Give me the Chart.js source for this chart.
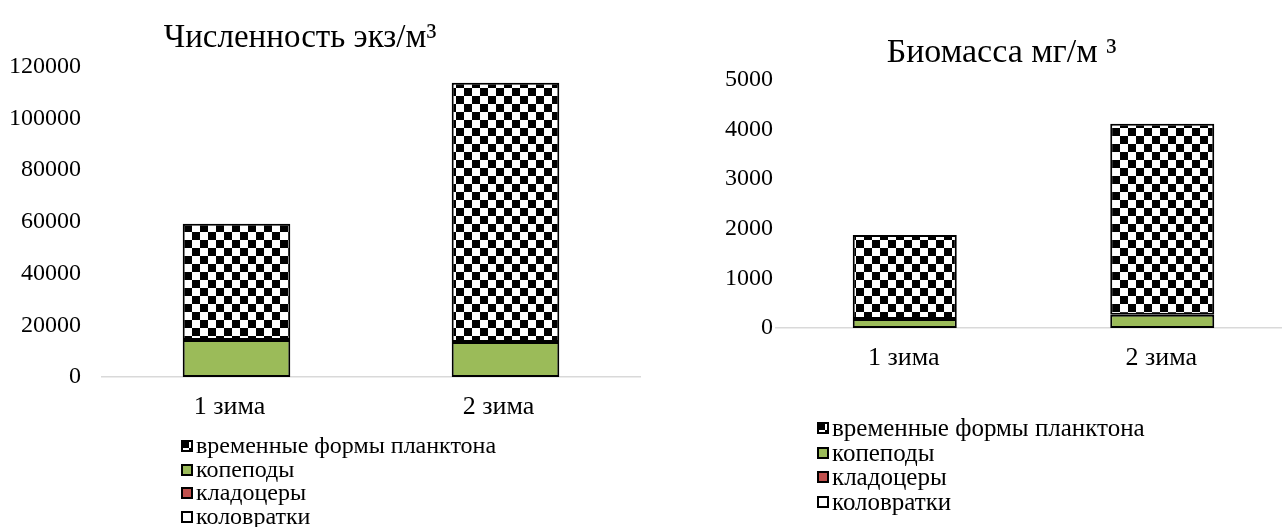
<!DOCTYPE html>
<html lang="ru">
<head>
<meta charset="utf-8">
<title>Зоопланктон</title>
<script src="https://cdn.jsdelivr.net/npm/chart.js@4.4.1/dist/chart.umd.min.js"></script>
<style>
  body { margin: 0; width: 1282px; height: 527px; overflow: hidden; background: #fff; position: relative;
         font-family: "Liberation Serif", "Times New Roman", serif; }
  canvas.chart { position: absolute; top: 0; }
  .legend { position: absolute; color: #000; }
  .legend div { display: flex; align-items: center; white-space: nowrap; }
  .legend canvas { margin-right: 3px; }
</style>
</head>
<body>
<canvas id="chislennost" class="chart" width="685" height="423" style="left:-40px"></canvas>
<canvas id="biomassa" class="chart" width="580" height="374" style="left:712px"></canvas>
<div id="legend1" class="legend" style="left:181px; top:434px; line-height:23.7px; font-size:24px"></div>
<div id="legend2" class="legend" style="left:817px; top:416px; line-height:24.6px; font-size:25px"></div>
<script>
var categories = ["1 зима", "2 зима"];
var seriesNames = ["коловратки", "кладоцеры", "копеподы", "временные формы планктона"];

// Численность, экз/м3
var numRotifers = [0, 0];
var numCladocera = [0, 0];
var numCopepods = [14300, 13550];
var numTemporary = [44900, 100250];
var numMax = 120000, numStep = 20000;

// Биомасса, мг/м3
var bioRotifers = [0, 0];
var bioCladocera = [0, 0];
var bioCopepods = [180, 265];
var bioTemporary = [1695, 3850];
var bioMax = 5000, bioStep = 1000;

var FONT = "'Liberation Serif', 'Times New Roman', serif";

// шахматная заливка для временных форм
function checker(size) {
    var c = document.createElement("canvas");
    c.width = c.height = size * 2;
    var g = c.getContext("2d");
    g.fillStyle = "#fff";
    g.fillRect(0, 0, size * 2, size * 2);
    g.fillStyle = "#000";
    g.fillRect(0, 0, size, size);
    g.fillRect(size, size, size, size);
    return g.createPattern(c, "repeat");
}

function makeDatasets(values, barPct) {
    var fills = ["#ffffff", "#c0504d", "#9bbb59", checker(8)];
    return values.map(function(v, i) {
        return {
            label: seriesNames[i],
            data: v,
            backgroundColor: fills[i],
            borderColor: "#000",
            borderWidth: 2,
            borderSkipped: false,
            categoryPercentage: 1,
            barPercentage: barPct
        };
    });
}

function makeOptions(title, titlePad, max, step, yWidth, yPad, layoutRight, labelShift) {
    return {
        responsive: false,
        animation: false,
        devicePixelRatio: 1,
        layout: { padding: { top: 0, left: 0, right: layoutRight, bottom: 0 } },
        plugins: {
            legend: { display: false },
            tooltip: { enabled: false },
            title: {
                display: true,
                text: title.text,
                color: "#000",
                font: { family: FONT, size: title.size, weight: "normal" },
                padding: titlePad
            }
        },
        scales: {
            x: {
                stacked: true,
                grid: { display: false, drawTicks: false },
                border: { display: true, color: "#d9d9d9", width: 1.5 },
                ticks: { padding: 15, labelOffset: labelShift, color: "#000", font: { family: FONT, size: 26 } },
                afterFit: function(s) { s.height = 46; }
            },
            y: {
                stacked: true,
                min: 0,
                max: max,
                grid: { display: false, drawTicks: false },
                border: { display: false },
                ticks: {
                    stepSize: step,
                    padding: yPad,
                    color: "#000",
                    font: { family: FONT, size: 24 },
                    callback: function(v) { return String(v); }
                },
                afterFit: function(s) { s.width = yWidth; }
            }
        }
    };
}

var chislennost = new Chart(document.querySelector("#chislennost"), {
    type: "bar",
    data: {
        labels: categories,
        datasets: makeDatasets([numRotifers, numCladocera, numCopepods, numTemporary], 0.4)
    },
    options: makeOptions({ text: "Численность экз/м³", size: 33 }, { top: 19, bottom: 8 },
        numMax, numStep, 142, 21, 5, -7)
});

var biomassa = new Chart(document.querySelector("#biomassa"), {
    type: "bar",
    data: {
        labels: categories,
        datasets: makeDatasets([bioRotifers, bioCladocera, bioCopepods, bioTemporary], 0.404)
    },
    options: makeOptions({ text: "Биомасса мг/м ³", size: 34 }, { top: 33, bottom: 6 },
        bioMax, bioStep, 64, 3, 1, -1)
});

// легенда списком, в обратном порядке как в Excel
function htmlLegend(chart, el) {
    var items = Chart.defaults.plugins.legend.labels.generateLabels(chart).reverse();
    items.forEach(function(item) {
        var row = document.createElement("div");
        var sw = document.createElement("canvas");
        sw.width = sw.height = 12;
        var g = sw.getContext("2d");
        g.fillStyle = item.fillStyle;
        g.fillRect(0, 0, 12, 12);
        g.strokeStyle = "#000";
        g.lineWidth = 2;
        g.strokeRect(1, 1, 10, 10);
        row.appendChild(sw);
        row.appendChild(document.createTextNode(item.text));
        el.appendChild(row);
    });
}
htmlLegend(chislennost, document.querySelector("#legend1"));
htmlLegend(biomassa, document.querySelector("#legend2"));
</script>
</body>
</html>
